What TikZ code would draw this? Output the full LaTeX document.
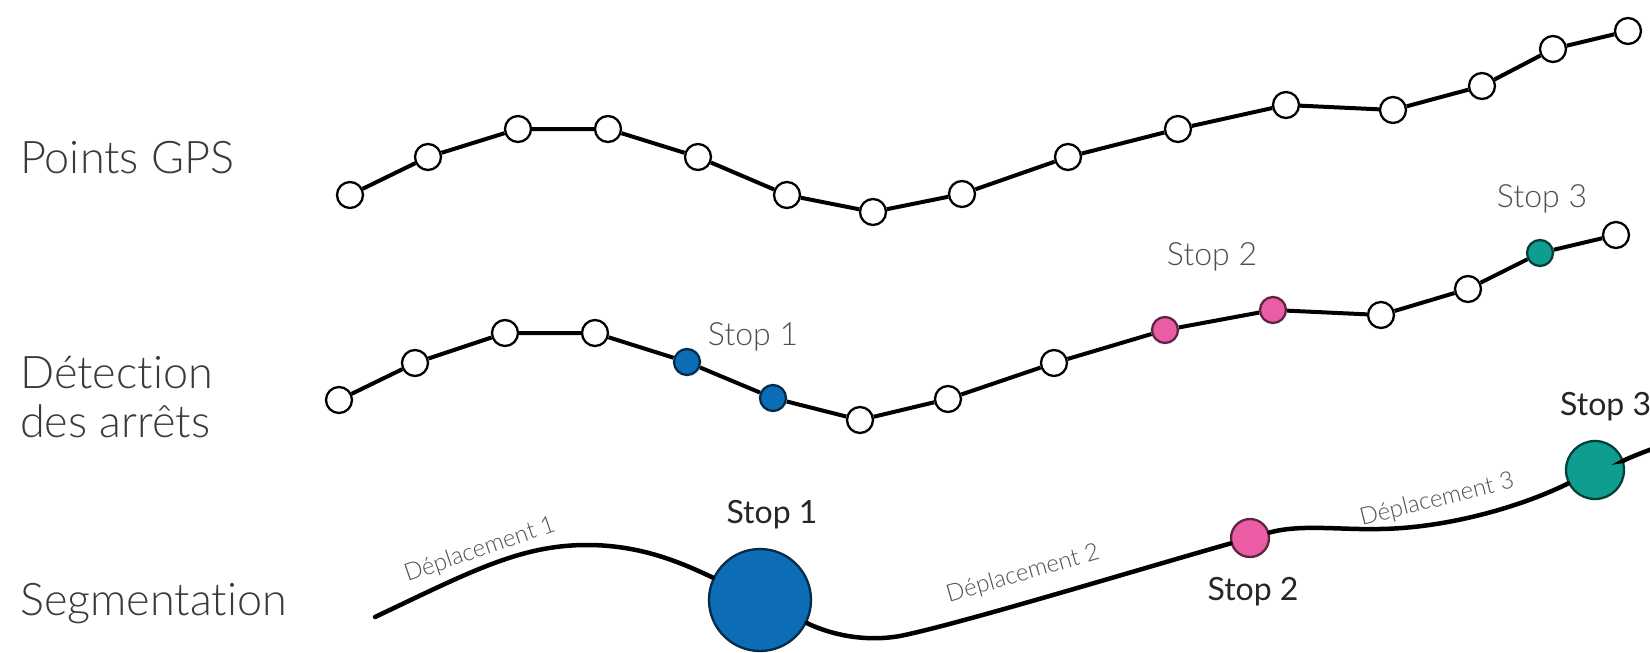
\documentclass[tikz,border=0pt]{standalone}
\usepackage{fontspec}
\setmainfont{Lato}[Ligatures=NoCommon]
\newfontfamily\lightf{Lato Light}[Ligatures=NoCommon]
\definecolor{sblue}{RGB}{12,108,182}
\definecolor{spink}{RGB}{234,92,164}
\definecolor{steal}{RGB}{14,158,143}
\definecolor{labc}{RGB}{58,58,58}
\definecolor{stopc}{RGB}{80,80,80}
\begin{document}
\begin{tikzpicture}[x=1pt,y=-1pt,
  pt/.style={circle,draw=black,fill=white,line width=2.3pt,minimum size=26pt,inner sep=0pt},
  bluept/.style={pt,fill=sblue,draw=sblue!40!black},
  pinkpt/.style={pt,fill=spink,draw=spink!40!black},
  tealpt/.style={pt,fill=steal,draw=steal!40!black},
  trail/.style={line width=4pt,line join=round},
  seg/.style={line width=4.5pt,line cap=round},
  rowlab/.style={anchor=base west,inner sep=0pt,text=labc,font=\lightf\fontsize{45}{52}\selectfont,align=left},
  stoplab/.style={anchor=base,inner sep=0pt,text=stopc,font=\lightf\fontsize{32}{38}\selectfont},
  stoplabb/.style={anchor=base,inner sep=0pt,text=black!85,font=\fontsize{32}{38}\selectfont},
  deplab/.style={inner sep=0pt,text=stopc,font=\lightf\fontsize{24}{28}\selectfont}]
\useasboundingbox (0,0) rectangle (1650,653);
\fill[white] (0,0) rectangle (1650,653);
% row labels
\node[rowlab] (l1) at (20,173) {Points GPS};
\node[rowlab] (l2a) at (20,388) {Détection};
\node[rowlab] (l2b) at (20,437) {des arrêts};
\node[rowlab] (l3) at (20,615) {Segmentation};
% row 1
\node[pt] (a1) at (350,195) {};
\node[pt] (a2) at (428,157) {};
\node[pt] (a3) at (518,129) {};
\node[pt] (a4) at (608,129) {};
\node[pt] (a5) at (698,157) {};
\node[pt] (a6) at (787,195) {};
\node[pt] (a7) at (873,212) {};
\node[pt] (a8) at (962,194) {};
\node[pt] (a9) at (1068,157) {};
\node[pt] (a10) at (1178,129) {};
\node[pt] (a11) at (1286,105) {};
\node[pt] (a12) at (1393,110) {};
\node[pt] (a13) at (1482,86) {};
\node[pt] (a14) at (1553,49) {};
\node[pt] (a15) at (1628,31) {};
\draw[trail] (a1)--(a2)--(a3)--(a4)--(a5)--(a6)--(a7)--(a8)--(a9)--(a10)--(a11)--(a12)--(a13)--(a14)--(a15);
% row 2
\node[pt] (b1) at (339,400) {};
\node[pt] (b2) at (415,363) {};
\node[pt] (b3) at (505,333) {};
\node[pt] (b4) at (595,333) {};
\node[bluept] (b5) at (687,362) {};
\node[bluept] (b6) at (773,398) {};
\node[pt] (b7) at (860,420) {};
\node[pt] (b8) at (948,399) {};
\node[pt] (b9) at (1054,363) {};
\node[pinkpt] (b10) at (1165,330) {};
\node[pinkpt] (b11) at (1273,310) {};
\node[pt] (b12) at (1381,315) {};
\node[pt] (b13) at (1468,289) {};
\node[tealpt] (b14) at (1540,253) {};
\node[pt] (b15) at (1616,235) {};
\draw[trail] (b1)--(b2)--(b3)--(b4)--(b5)--(b6)--(b7)--(b8)--(b9)--(b10)--(b11)--(b12)--(b13)--(b14)--(b15);
\node[stoplab] (t1) at (753,345) {Stop 1};
\node[stoplab] (t2) at (1212,265) {Stop 2};
\node[stoplab] (t3) at (1542,207) {Stop 3};
% row 3
\coordinate (s0) at (375,617);
\coordinate (s4) at (1655,448);
\node[pt,fill=sblue,draw=sblue!40!black,minimum size=102pt] (S1) at (760,600) {};
\node[pinkpt,minimum size=38pt] (S2) at (1250,538) {};
\node[tealpt,minimum size=58pt] (S3) at (1595,470) {};
\draw[seg] (s0) .. controls (470,572) and (520,545) .. (587,545) .. controls (640,545) and (680,562) .. (S1);
\draw[seg] (S1) .. controls (825,632) and (860,643) .. (900,636) .. controls (960,624) and (1150,566) .. (S2);
\draw[seg] (S2) .. controls (1300,524) and (1340,530) .. (1380,529) .. controls (1450,528) and (1525,505) .. (S3);
\draw[seg] (S3) .. controls (1620,462) and (1635,455) .. (s4);
\node[stoplabb] (u1) at (772,523) {Stop 1};
\node[stoplabb] (u2) at (1253,600) {Stop 2};
\node[stoplabb,anchor=base west] (u3) at (1560,415) {Stop 3};
\node[deplab,rotate=19] (d1) at (480,550) {Déplacement 1};
\node[deplab,rotate=16] (d2) at (1023,574) {Déplacement 2};
\node[deplab,rotate=14] (d3) at (1437,500) {Déplacement 3};
\end{tikzpicture}
\end{document}
